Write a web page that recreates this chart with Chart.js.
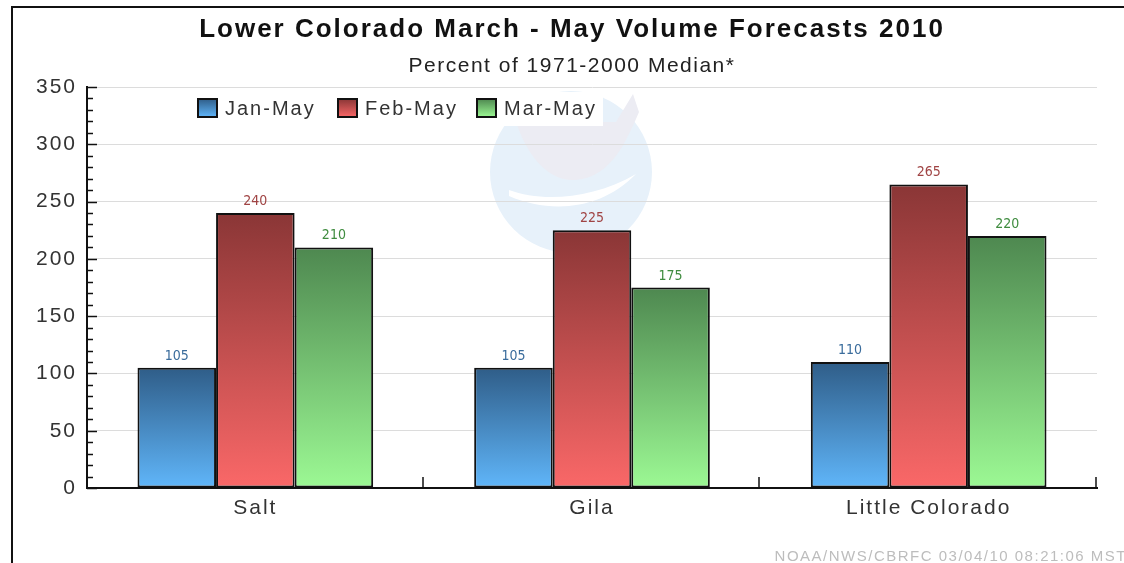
<!DOCTYPE html>
<html>
<head>
<meta charset="utf-8">
<title>Lower Colorado March - May Volume Forecasts 2010</title>
<script src="https://cdn.jsdelivr.net/npm/chart.js@4/dist/chart.umd.min.js"></script>
<style>
  html, body { margin: 0; padding: 0; background: #fff; }
  #wrap { width: 1124px; height: 563px; position: relative; }
</style>
</head>
<body>
<div id="wrap"><canvas id="myChart" width="1124" height="563"></canvas></div>
<script>
const categories = ['Salt', 'Gila', 'Little Colorado'];
const janMay = [105, 105, 110];
const febMay = [240, 225, 265];
const marMay = [210, 175, 220];
const yTicks = [0, 50, 100, 150, 200, 250, 300, 350];

const chartTitle = 'Lower Colorado March - May Volume Forecasts 2010';
const chartSubtitle = 'Percent of 1971-2000 Median*';
const footerText = 'NOAA/NWS/CBRFC 03/04/10 08:21:06 MST';

// top colour, bottom colour, value label colour
const blue = ['#2f5d88', '#60b6fa', '#3a6c9c'];
const red = ['#8a3636', '#fa6868', '#a04444'];
const green = ['#4e8850', '#9cf994', '#3f8c3f'];

const font = "'Liberation Sans', Arial, sans-serif";

const gradientFill = (cols) => (c) => {
    const chart = c.chart;
    const y = chart.scales.y;
    if (!chart.chartArea || !y || c.raw === undefined) return cols[0];
    const g = chart.ctx.createLinearGradient(0, y.getPixelForValue(c.raw), 0, y.getPixelForValue(0));
    g.addColorStop(0, cols[0]);
    g.addColorStop(1, cols[1]);
    return g;
};

const makeSet = (label, data, cols) => ({
    label: label,
    data: data,
    backgroundColor: gradientFill(cols),
    borderColor: '#111',
    borderWidth: 2,
    borderSkipped: false,
    labelColor: cols[2],
    cols: cols
});

// faint NOAA watermark behind the grid
const drawLogo = (ctx, cx, cy, r) => {
    ctx.save();
    ctx.beginPath();
    ctx.arc(cx, cy, r, 0, Math.PI * 2);
    ctx.fillStyle = '#e7f1fa';
    ctx.fill();
    // upper (dark in the real logo) part, very pale here
    ctx.beginPath();
    ctx.moveTo(cx - 55, cy - 50);
    ctx.lineTo(cx + 45, cy - 50);
    ctx.lineTo(cx + 62, cy - 78);
    ctx.lineTo(cx + 68, cy - 60);
    ctx.bezierCurveTo(cx + 55, cy - 30, cx + 40, cy + 5, cx + 5, cy + 8);
    ctx.bezierCurveTo(cx - 25, cy + 10, cx - 45, cy - 20, cx - 55, cy - 50);
    ctx.closePath();
    ctx.fillStyle = '#ececf3';
    ctx.fill();
    // white wing sweep
    ctx.beginPath();
    ctx.arc(cx, cy, r, 0, Math.PI * 2);
    ctx.clip();
    ctx.beginPath();
    ctx.moveTo(cx - 62, cy + 18);
    ctx.bezierCurveTo(cx - 30, cy + 30, cx + 20, cy + 28, cx + 65, cy + 2);
    ctx.bezierCurveTo(cx + 30, cy + 38, cx - 20, cy + 42, cx - 62, cy + 24);
    ctx.closePath();
    ctx.fillStyle = '#ffffff';
    ctx.fill();
    ctx.restore();
};

const decorations = {
    id: 'decorations',
    beforeDraw(chart) {
        const ctx = chart.ctx;
        drawLogo(ctx, 571, 172, 81);
        ctx.letterSpacing = '2px';
    },
    afterDraw(chart) {
        const ctx = chart.ctx;
        const area = chart.chartArea;
        const y = chart.scales.y;
        const x = chart.scales.x;
        ctx.save();
        ctx.strokeStyle = '#111';
        ctx.lineWidth = 1.5;
        // y ticks, drawn into the plot
        for (let v = 0; v <= 350; v += 10) {
            const py = Math.round(y.getPixelForValue(v)) + 0.5;
            ctx.beginPath();
            ctx.moveTo(area.left, py);
            ctx.lineTo(area.left + (v % 50 === 0 ? 10 : 6), py);
            ctx.stroke();
        }
        // x ticks at the category borders
        const w = (x.right - x.left) / categories.length;
        for (let i = 1; i <= categories.length; i++) {
            const px = Math.round(x.left + w * i) - 1;
            ctx.beginPath();
            ctx.moveTo(px, area.bottom);
            ctx.lineTo(px, area.bottom - 11);
            ctx.stroke();
        }

        // value labels
        ctx.letterSpacing = '0px';
        ctx.font = "14px 'DejaVu Sans Condensed', 'Liberation Sans Narrow', sans-serif";
        ctx.textAlign = 'center';
        ctx.textBaseline = 'alphabetic';
        chart.data.datasets.forEach((ds, i) => {
            chart.getDatasetMeta(i).data.forEach((bar, j) => {
                ctx.fillStyle = ds.labelColor;
                ctx.fillText(ds.data[j], bar.x, bar.y - 8);
            });
        });

        // legend
        ctx.fillStyle = '#fff';
        ctx.fillRect(190, 92, 413, 34);
        const legendX = [198, 338, 477];
        ctx.font = '20px ' + font;
        ctx.letterSpacing = '2px';
        ctx.textAlign = 'left';
        ctx.textBaseline = 'middle';
        chart.data.datasets.forEach((ds, i) => {
            const bx = legendX[i];
            const g = ctx.createLinearGradient(0, 99, 0, 117);
            g.addColorStop(0, ds.cols[0]);
            g.addColorStop(1, ds.cols[1]);
            ctx.fillStyle = g;
            ctx.fillRect(bx, 99, 19, 18);
            ctx.strokeStyle = '#111';
            ctx.lineWidth = 2;
            ctx.strokeRect(bx, 99, 19, 18);
            ctx.fillStyle = '#333';
            ctx.fillText(ds.label, bx + 27, 109);
        });

        // titles and footer
        ctx.textAlign = 'center';
        ctx.textBaseline = 'alphabetic';
        ctx.fillStyle = '#111';
        ctx.font = 'bold 26px ' + font;
        ctx.fillText(chartTitle, 572, 37);
        ctx.font = '21px ' + font;
        ctx.letterSpacing = '1.5px';
        ctx.fillStyle = '#222';
        ctx.fillText(chartSubtitle, 572, 72);
        ctx.textAlign = 'right';
        ctx.font = '15px ' + font;
        ctx.fillStyle = '#bdbdbd';
        ctx.fillText(footerText, 1127, 561);

        // outer frame
        ctx.strokeStyle = '#111';
        ctx.lineWidth = 2;
        ctx.beginPath();
        ctx.moveTo(12, 600);
        ctx.lineTo(12, 7);
        ctx.lineTo(1130, 7);
        ctx.stroke();
        ctx.restore();
    }
};

const ctx = document.getElementById('myChart').getContext('2d');
let myChart = new Chart(ctx, {
    type: 'bar',
    data: {
        labels: categories,
        datasets: [
            makeSet('Jan-May', janMay, blue),
            makeSet('Feb-May', febMay, red),
            makeSet('Mar-May', marMay, green)
        ]
    },
    options: {
        responsive: false,
        animation: false,
        layout: { padding: { top: 87, right: 27, left: 0, bottom: 0 } },
        categoryPercentage: 0.7,
        barPercentage: 1.0,
        plugins: {
            legend: { display: false },
            title: { display: false },
            tooltip: { enabled: false }
        },
        scales: {
            x: {
                grid: { display: false, drawTicks: false },
                border: { display: true, color: '#111', width: 2 },
                ticks: { color: '#333', padding: 8, font: { family: font, size: 21 } },
                afterFit: (s) => { s.height = 75; }
            },
            y: {
                min: 0,
                max: 350,
                afterBuildTicks: (s) => { s.ticks = yTicks.map(v => ({ value: v })); },
                grid: { color: '#dcdcdc', lineWidth: 1, drawTicks: false },
                border: { display: true, color: '#111', width: 2 },
                ticks: { color: '#333', padding: 10, font: { family: font, size: 21 } },
                afterFit: (s) => { s.width = 87; }
            }
        }
    },
    plugins: [decorations]
});
</script>
</body>
</html>
